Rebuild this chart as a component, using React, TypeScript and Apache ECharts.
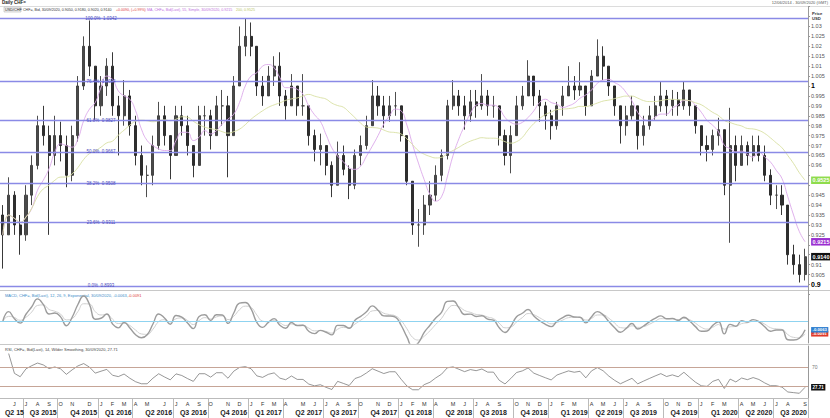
import React, { useEffect, useRef } from "react";
import * as echarts from "echarts";

// ---------- data (one bar = two weeks) ----------
const startDate = "2015-05-04";
const barDays = 14;
const firstOpen = 0.935;
const closes = [
  0.925, 0.945, 0.93, 0.925, 0.945, 0.96, 0.98, 0.975, 0.965, 0.975,
  0.97, 0.955, 0.975, 1.0, 1.02, 1.01, 0.99, 1.0, 1.01, 0.99,
  0.985, 0.995, 0.98, 0.965, 0.955, 0.955, 0.97, 0.985, 0.975, 0.965,
  0.985, 0.98, 0.97, 0.96, 0.985, 0.985, 0.975, 0.99, 0.99, 0.975,
  1.0, 1.02, 1.025, 1.02, 1.0, 0.995, 1.005, 1.01, 0.995, 0.99,
  1.0, 0.99, 0.99, 0.975, 0.968, 0.97, 0.96, 0.95, 0.965, 0.958,
  0.95, 0.965, 0.97, 0.98, 0.995, 0.99, 0.985, 0.99, 0.99, 0.975,
  0.952, 0.93, 0.93, 0.94, 0.945, 0.955, 0.965, 0.99, 0.995, 0.99,
  0.985, 0.992, 0.99, 0.995, 0.99, 0.99, 0.975, 0.965, 0.975, 0.99,
  0.995, 1.005, 0.995, 0.99, 0.985, 0.98, 0.99, 0.995, 1.0, 0.998,
  1.0, 0.99, 1.005, 1.015, 1.01, 1.0, 0.99, 0.98, 0.985, 0.99,
  0.975, 0.98, 0.985, 0.99, 0.995, 0.99, 0.993, 0.99, 0.998, 0.99,
  0.98, 0.97, 0.968, 0.975, 0.978, 0.95, 0.97, 0.96, 0.97, 0.965,
  0.97, 0.965, 0.955, 0.945, 0.945, 0.94, 0.915, 0.91, 0.905, 0.914,
];
const highs = [
  0.94, 0.954, 0.947, 0.935, 0.95, 0.965, 0.985, 0.99, 0.98, 0.985,
  0.982, 0.975, 0.98, 1.005, 1.025, 1.033, 1.01, 1.005, 1.014, 1.017,
  0.995, 1.003, 0.998, 0.985, 0.97, 0.96, 0.975, 0.992, 0.99, 0.975,
  0.99, 0.99, 0.985, 0.97, 0.99, 0.99, 0.988, 0.995, 0.998, 0.995,
  1.005, 1.03, 1.0342, 1.032, 1.02, 1.005, 1.01, 1.015, 1.017, 0.998,
  1.006, 1.0, 1.006, 0.99, 0.978, 0.976, 0.97, 0.962, 0.972, 0.97,
  0.96, 0.968, 0.975, 0.985, 1.003, 1.0, 0.995, 0.995, 0.997, 0.99,
  0.975, 0.952, 0.938, 0.945, 0.952, 0.96, 0.968, 0.993, 1.003, 0.998,
  0.995, 0.998, 0.998, 1.006, 0.998, 0.995, 0.99, 0.978, 0.98, 0.995,
  1.0, 1.013, 1.005, 0.998, 0.992, 0.988, 0.992, 1.0, 1.01, 1.005,
  1.012, 1.0, 1.008, 1.0235, 1.02, 1.01, 1.0, 0.99, 0.99, 0.995,
  0.99, 0.985, 0.99, 0.995, 1.002, 0.998, 0.998, 0.997, 1.002, 0.998,
  0.99, 0.98, 0.975, 0.978, 0.984, 0.978, 0.989, 0.975, 0.975, 0.972,
  0.975, 0.975, 0.97, 0.958, 0.95, 0.95, 0.94, 0.92, 0.915, 0.918,
];
const lows = [
  0.908, 0.925, 0.925, 0.915, 0.922, 0.94, 0.958, 0.97, 0.925, 0.96,
  0.962, 0.949, 0.952, 0.972, 0.998, 1.005, 0.983, 0.985, 0.995, 0.985,
  0.965, 0.98, 0.975, 0.96, 0.95, 0.944, 0.95, 0.968, 0.97, 0.953,
  0.965, 0.975, 0.965, 0.954, 0.96, 0.975, 0.968, 0.975, 0.98, 0.954,
  0.975, 1.0, 1.015, 1.015, 0.995, 0.99, 0.995, 1.0, 0.99, 0.983,
  0.99, 0.985, 0.985, 0.97, 0.962, 0.96, 0.955, 0.944, 0.95, 0.955,
  0.943, 0.948, 0.96, 0.968, 0.98, 0.985, 0.979, 0.982, 0.985, 0.972,
  0.95, 0.925, 0.919, 0.925, 0.935, 0.942, 0.952, 0.963, 0.988, 0.985,
  0.978, 0.982, 0.984, 0.988, 0.985, 0.984, 0.97, 0.96, 0.956, 0.975,
  0.988, 0.995, 0.99, 0.982, 0.978, 0.973, 0.978, 0.985, 0.995, 0.993,
  0.995, 0.985, 0.99, 1.005, 1.003, 0.995, 0.985, 0.971, 0.975, 0.983,
  0.968, 0.97, 0.978, 0.983, 0.987, 0.985, 0.985, 0.985, 0.988, 0.985,
  0.976, 0.965, 0.962, 0.965, 0.97, 0.945, 0.921, 0.952, 0.96, 0.96,
  0.962, 0.962, 0.952, 0.94, 0.938, 0.935, 0.91, 0.905, 0.901, 0.902,
];
const fibHigh = 1.0342;
const fibLow = 0.8993;
const fibRatios = [0, 0.236, 0.382, 0.5, 0.618, 0.764, 1];
const monthLetters = ["J", "F", "M", "A", "M", "J", "J", "A", "S", "O", "N", "D"];
const quarterLabels = [
  "Q2 15", "Q3 2015", "Q4 2015", "Q1 2016", "Q2 2016", "Q3 2016", "Q4 2016",
  "Q1 2017", "Q2 2017", "Q3 2017", "Q4 2017", "Q1 2018", "Q2 2018", "Q3 2018",
  "Q4 2018", "Q1 2019", "Q2 2019", "Q3 2019", "Q4 2019", "Q1 2020", "Q2 2020",
  "Q3 2020",
];
const boldPriceTicks = ["1", "0.95", "0.9"];
const maShortBars = 6;
const maLongBars = 20;
const macdFastBars = 2;
const macdSlowBars = 5;
const macdSignalBars = 3;
const rsiBars = 7;

// ---------- helpers ----------
function addDays(iso: string, n: number) {
  const d = new Date(iso + "T00:00:00Z");
  d.setUTCDate(d.getUTCDate() + n);
  return d;
}
function sma(a: number[], n: number) {
  return a.map((_, i) => {
    const s = Math.max(0, i - n + 1);
    let sum = 0;
    for (let k = s; k <= i; k++) sum += a[k];
    return +(sum / (i - s + 1)).toFixed(5);
  });
}
function ema(a: number[], n: number) {
  const k = 2 / (n + 1);
  const out: number[] = [];
  a.forEach((v, i) => out.push(i === 0 ? v : k * v + (1 - k) * out[i - 1]));
  return out;
}
function rsi(a: number[], n: number) {
  const out: (number | string)[] = ["-"];
  let ag = 0, al = 0;
  for (let i = 1; i < a.length; i++) {
    const ch = a[i] - a[i - 1];
    const g = Math.max(ch, 0), l = Math.max(-ch, 0);
    if (i <= n) { ag = (ag * (i - 1) + g) / i; al = (al * (i - 1) + l) / i; }
    else { ag = (ag * (n - 1) + g) / n; al = (al * (n - 1) + l) / n; }
    const rs = al === 0 ? 100 : ag / al;
    out.push(+(100 - 100 / (1 + rs)).toFixed(2));
  }
  return out;
}
const f4 = (v: number) => v.toFixed(4);
const sgn4 = (v: number) => (v >= 0 ? "+" : "") + v.toFixed(4);

function buildOption() {
  const n = closes.length;
  const cats = closes.map((_, i) => addDays(startDate, i * barDays).toISOString().slice(0, 10));
  const opens = closes.map((_, i) => (i === 0 ? firstOpen : closes[i - 1]));
  const candles = closes.map((c, i) => [opens[i], c, lows[i], highs[i]]);
  const maS = sma(closes, maShortBars);
  const maL = sma(closes, maLongBars);
  const ef = ema(closes, macdFastBars);
  const es = ema(closes, macdSlowBars);
  const macd = ef.map((v, i) => +(v - es[i]).toFixed(5));
  const sig = ema(macd, macdSignalBars).map((v) => +v.toFixed(5));
  const rsiVals = rsi(closes, rsiBars);
  const lastCat = cats[n - 1];
  const lastRsi = rsiVals[n - 1] as number;

  // month / quarter markers
  const monthAt: Record<number, string> = {};
  const quarterStart: Record<number, boolean> = {};
  for (let i = 0; i < n; i++) {
    for (let k = 0; k < barDays; k++) {
      const d = addDays(startDate, i * barDays + k);
      if (d.getUTCDate() === 1) {
        monthAt[i] = monthLetters[d.getUTCMonth()];
        if (d.getUTCMonth() % 3 === 0) quarterStart[i] = true;
      }
    }
  }
  const groups: number[][] = [];
  let lastKey = -1;
  for (let i = 0; i < n; i++) {
    const c = addDays(startDate, i * barDays + 7);
    const key = c.getUTCFullYear() * 4 + Math.floor(c.getUTCMonth() / 3);
    if (key !== lastKey) { groups.push([]); lastKey = key; }
    groups[groups.length - 1].push(i);
  }
  const quarterAt: Record<number, string> = {};
  groups.forEach((g, gi) => { quarterAt[g[Math.floor(g.length / 2)]] = quarterLabels[gi] || ""; });

  const fibLevels = fibRatios.map((r) => fibLow + r * (fibHigh - fibLow));
  const font = "Liberation Sans";
  // value box on the right axis, anchored at the last bar
  const box = (v: number, bg: string, fg: string, txt?: string, fs = 5.5) => ({
    coord: [lastCat, v], symbol: "rect", symbolSize: 1, itemStyle: { color: "rgba(0,0,0,0)" },
    label: {
      show: true, position: "right", distance: 5.5, formatter: txt ?? v.toFixed(4),
      backgroundColor: bg, color: fg, fontSize: fs, fontFamily: font, fontWeight: "bold",
      padding: [1, 1.5, 0.5, 1.5],
    },
  });

  const lastClose = closes[n - 1];
  const lastOpen = opens[n - 1];
  const chg = lastClose - lastOpen;
  const boxValues = [lastClose, maS[n - 1], maL[n - 1]];

  const macdAbs = Math.max(...macd.map(Math.abs), ...sig.map(Math.abs));
  const macdMax = macdAbs * 1.15;
  const macdMin = -macdMax * 22 / 29;

  const hidX = (gi: number) => ({
    type: "category", gridIndex: gi, data: cats, boundaryGap: true,
    axisLine: { show: false }, axisTick: { show: false }, axisLabel: { show: false }, splitLine: { show: false },
  });

  const hdr = (left: number, top: number, text: string, fill: string, fs = 3.6) => ({
    type: "text", silent: true, left, top, style: { text, fontSize: fs, fill, fontFamily: font },
  });

  return {
    animation: false,
    backgroundColor: "#fff",
    textStyle: { fontFamily: font },
    grid: [
      { left: 0, right: 22, top: 6.6, bottom: 123.6 },
      { left: 0, right: 22, top: 292, bottom: 75 },
      { left: 0, right: 22, top: 346, bottom: 20 },
    ],
    xAxis: [
      hidX(0),
      hidX(1),
      {
        type: "category", gridIndex: 2, data: cats, boundaryGap: true,
        axisLine: { show: true, lineStyle: { color: "#bbb", width: 1 } },
        axisTick: { show: true, length: 20, interval: (i: number) => !!quarterStart[i], lineStyle: { color: "#bbb" } },
        axisLabel: {
          show: true, interval: (i: number) => monthAt[i] !== undefined,
          formatter: (_v: string, i: number) => monthAt[i] || "", fontSize: 5.5, color: "#333", margin: 2.5,
        },
        splitLine: { show: false },
      },
      {
        type: "category", gridIndex: 2, data: cats, boundaryGap: true, position: "bottom", offset: 8,
        axisLine: { show: false }, axisTick: { show: false },
        axisLabel: {
          show: true, interval: (i: number) => quarterAt[i] !== undefined,
          formatter: (_v: string, i: number) => quarterAt[i] || "",
          fontSize: 7, fontWeight: "bold", color: "#222", margin: 3,
        },
        splitLine: { show: false },
      },
    ],
    yAxis: [
      {
        type: "value", gridIndex: 0, position: "right", min: 0.895, max: 1.04, interval: 0.005,
        axisLine: { show: true, lineStyle: { color: "#999" } },
        axisTick: { show: true, length: 2, lineStyle: { color: "#999" } },
        splitLine: { show: false },
        axisLabel: {
          margin: 3, fontSize: 5.5, color: "#555",
          formatter: (v: number) => {
            if (v > 1.0315 || v < 0.8995) return "";
            if (boxValues.some((b) => Math.abs(b - v) < 0.0034)) return "";
            const s = String(+v.toFixed(3));
            return boldPriceTicks.includes(s) ? "{b|" + s + "}" : s;
          },
          rich: { b: { fontSize: 7, fontWeight: "bold", color: "#000" } },
        },
      },
      {
        type: "value", gridIndex: 1, position: "right", min: macdMin, max: macdMax,
        axisLine: { show: true, lineStyle: { color: "#999" } },
        axisTick: { show: false }, splitLine: { show: false },
        axisLabel: { show: false },
      },
      {
        type: "value", gridIndex: 2, position: "right", min: 5, max: 115, interval: 5,
        axisLine: { show: true, lineStyle: { color: "#999" } },
        axisTick: { show: false }, splitLine: { show: false },
        axisLabel: {
          fontSize: 5, color: "#777", margin: 4,
          formatter: (v: number) => ((v === 30 || v === 70) && Math.abs(lastRsi - v) > 6 ? String(v) : ""),
        },
      },
    ],
    series: [
      {
        type: "candlestick", name: "CHF=", xAxisIndex: 0, yAxisIndex: 0, data: candles, barWidth: "45%",
        itemStyle: { color: "#4a4a4a", color0: "#2e2e2e", borderColor: "#3a3a3a", borderColor0: "#222", borderWidth: 0.9 },
        markLine: {
          silent: true, symbol: "none", animation: false, precision: 5,
          data: fibLevels.map((v) => ({ yAxis: v, lineStyle: { color: "#8a8ae6", width: 1.3, type: "solid" }, label: { show: false } })),
        },
        markPoint: {
          silent: true, animation: false,
          data: [
            ...fibLevels.map((v, i) => ({
              coord: [cats[17], v], symbol: "rect", symbolSize: 1, itemStyle: { color: "rgba(0,0,0,0)" },
              label: {
                show: true, position: "inside", fontSize: 4.5, color: "#4d4dbb",
                formatter: (fibRatios[i] * 100).toFixed(1) + "%  " + v.toFixed(4),
              },
            })),
            box(lastClose, "#111", "#fff"),
          ],
        },
      },
      {
        type: "line", name: "MA short", xAxisIndex: 0, yAxisIndex: 0, data: maS, symbol: "none", smooth: true,
        lineStyle: { color: "#dba8ea", width: 0.9 },
        markPoint: { silent: true, animation: false, data: [box(maS[n - 1], "#9a2fd0", "#fff")] },
      },
      {
        type: "line", name: "MA long", xAxisIndex: 0, yAxisIndex: 0, data: maL, symbol: "none", smooth: true,
        lineStyle: { color: "#d8e0a2", width: 0.9 },
        markPoint: { silent: true, animation: false, data: [box(maL[n - 1], "#8fdc4c", "#fff")] },
      },
      {
        type: "line", name: "Signal", xAxisIndex: 1, yAxisIndex: 1, data: sig, symbol: "none", smooth: true,
        lineStyle: { color: "#cfcfcf", width: 1 },
        markPoint: { silent: true, animation: false, data: [box(sig[n - 1], "#e03a2a", "#fff", undefined, 4.2)] },
      },
      {
        type: "line", name: "MACD", xAxisIndex: 1, yAxisIndex: 1, data: macd, symbol: "none", smooth: true,
        lineStyle: { color: "#9c9c9c", width: 1.4 },
        markLine: {
          silent: true, symbol: "none", animation: false, precision: 6,
          data: [{ yAxis: 0, lineStyle: { color: "#8fd3f0", width: 1, type: "solid" }, label: { show: false } }],
        },
        markPoint: { silent: true, animation: false, data: [box(macd[n - 1], "#2f7fd0", "#fff", undefined, 4.2)] },
      },
      {
        type: "line", name: "RSI", xAxisIndex: 2, yAxisIndex: 2, data: rsiVals, symbol: "none",
        lineStyle: { color: "#6a6a6a", width: 0.7 },
        markLine: {
          silent: true, symbol: "none", animation: false, precision: 3,
          data: [
            { yAxis: 70, lineStyle: { color: "#c6a597", width: 1, type: "solid" }, label: { show: false } },
            { yAxis: 30, lineStyle: { color: "#c6a597", width: 1, type: "solid" }, label: { show: false } },
          ],
        },
        markPoint: {
          silent: true, animation: false,
          data: [box(lastRsi, "#111", "#fff", lastRsi.toFixed(2), 4.5)],
        },
      },
    ],
    graphic: [
      { type: "line", silent: true, shape: { x1: 0, y1: 290.5, x2: 830, y2: 290.5 }, style: { stroke: "#c8c8c8", lineWidth: 1 } },
      { type: "line", silent: true, shape: { x1: 0, y1: 344.5, x2: 830, y2: 344.5 }, style: { stroke: "#c8c8c8", lineWidth: 1 } },
      { type: "line", silent: true, shape: { x1: 0, y1: 6.5, x2: 830, y2: 6.5 }, style: { stroke: "#dcdcdc", lineWidth: 1 } },
      { type: "text", silent: true, left: 2, top: 0, style: { text: "Daily CHF=", fontSize: 4.5, fontWeight: "bold", fill: "#222", fontFamily: font } },
      { type: "rect", silent: true, shape: { x: 4, y: 7, width: 17, height: 5 }, style: { fill: "#f2f2f2", stroke: "#aaa", lineWidth: 0.5 } },
      hdr(5, 7.5, "USD/CHF", "#222", 3.8),
      hdr(23, 7.5, "CHF=, Bid, 30/09/2020, " + [lastOpen, highs[n - 1], lows[n - 1], lastClose].map(f4).join(", "), "#333"),
      hdr(116, 7.5, sgn4(chg) + ", (" + (chg >= 0 ? "+" : "") + ((chg / lastOpen) * 100).toFixed(2) + "%)", "#e0403a"),
      hdr(147, 7.5, "MA, CHF=, Bid(Last), 55, Simple, 30/09/2020, " + f4(maS[n - 1]), "#c070e0"),
      hdr(236, 7.5, "200, " + f4(maL[n - 1]), "#b8c860"),
      { type: "text", silent: true, right: 2, top: 0, style: { text: "12/06/2014 - 30/09/2020 (GMT)", fontSize: 4, fill: "#555", fontFamily: font } },
      { type: "text", silent: true, left: 812, top: 11, style: { text: "Price\nUSD", fontSize: 4.2, fontWeight: "bold", fill: "#333", lineHeight: 5, fontFamily: font } },
      hdr(5, 293, "MACD, CHF=, Bid(Last), 12, 26, 9, Exponential, 30/09/2020, " + f4(macd[n - 1]) + ",", "#3c8cc8", 4),
      hdr(128, 293, f4(sig[n - 1]), "#e0403a", 4),
      hdr(5, 347, "RSI, CHF=, Bid(Last), 14, Wilder Smoothing, 30/09/2020, " + lastRsi.toFixed(2), "#444", 4),
    ],
  };
}

export default function App() {
  const ref = useRef<HTMLDivElement>(null);
  useEffect(() => {
    const chart = echarts.init(ref.current as HTMLDivElement, null, { renderer: "svg" });
    chart.setOption(buildOption() as any);
    return () => chart.dispose();
  }, []);
  return (
    <div
      ref={ref}
      style={{ position: "fixed", left: 0, top: 0, width: 830, height: 418, background: "#fff" }}
    />
  );
}
